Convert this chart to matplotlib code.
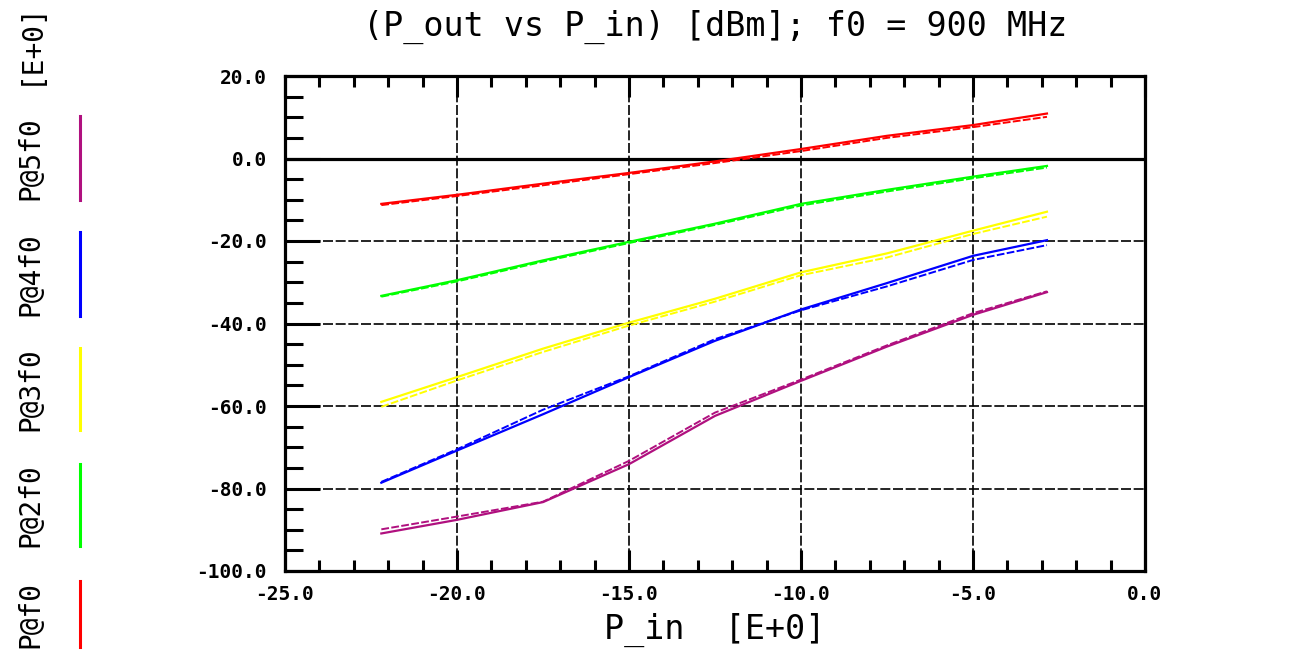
import matplotlib
matplotlib.use("Agg")
import matplotlib.pyplot as plt
from matplotlib.lines import Line2D
from matplotlib.ticker import MultipleLocator, FormatStrFormatter

# P_in sweep points [dBm]
p_in = [-22.2, -20.0, -17.5, -15.0, -12.5, -10.0, -7.5, -5.0, -2.85]

# simulated (solid) and measured (dashed) output power per harmonic [dBm]
sim_f0 = [-11.0, -8.8, -6.1, -3.5, -0.7, 2.3, 5.5, 8.1, 10.9]
meas_f0 = [-11.3, -9.1, -6.5, -3.8, -1.1, 1.8, 5.0, 7.6, 10.1]
sim_2f0 = [-33.3, -29.5, -24.7, -20.2, -15.8, -11.0, -7.6, -4.4, -1.8]
meas_2f0 = [-33.5, -29.8, -25.0, -20.5, -16.1, -11.4, -8.0, -4.8, -2.2]
sim_3f0 = [-59.0, -53.0, -46.1, -39.8, -34.0, -27.6, -23.0, -17.5, -12.9]
meas_3f0 = [-60.2, -53.8, -46.9, -40.5, -34.7, -28.3, -24.0, -18.3, -14.1]
sim_4f0 = [-78.6, -70.8, -62.0, -53.0, -44.2, -36.6, -30.2, -23.6, -19.8]
meas_4f0 = [-78.4, -70.5, -60.9, -52.8, -43.8, -36.8, -31.0, -24.6, -21.0]
sim_5f0 = [-90.9, -87.6, -83.3, -74.1, -62.4, -53.9, -45.6, -37.9, -32.4]
meas_5f0 = [-89.9, -86.8, -83.2, -73.3, -61.6, -53.6, -45.3, -37.5, -32.2]

labels = ["P@5f0", "P@4f0", "P@3f0", "P@2f0", "P@f0"]
colors = ["#B0107F", "#0000FF", "#FFFF00", "#00FF00", "#FF0000"]
sims = [sim_5f0, sim_4f0, sim_3f0, sim_2f0, sim_f0]
meas = [meas_5f0, meas_4f0, meas_3f0, meas_2f0, meas_f0]

W, H = 1292, 653
fig = plt.figure(figsize=(W / 100, H / 100), dpi=100)
fig.patch.set_facecolor("white")
ax = fig.add_axes([285 / W, 1 - 571 / H, (1145 - 285) / W, (571 - 76) / H])

MONO = "DejaVu Sans Mono"

for s, m, c in zip(sims, meas, colors):
    ax.plot(p_in, m, color=c, lw=1.4, linestyle=(0, (4, 1.2)), zorder=3)
    ax.plot(p_in, s, color=c, lw=1.6, zorder=4)

ax.set_xlim(-25, 0)
ax.set_ylim(-100, 20)
ax.axhline(0, color="black", lw=2.3, zorder=2)

ax.xaxis.set_major_locator(MultipleLocator(5))
ax.xaxis.set_minor_locator(MultipleLocator(1))
ax.yaxis.set_major_locator(MultipleLocator(20))
ax.yaxis.set_minor_locator(MultipleLocator(5))
ax.xaxis.set_major_formatter(FormatStrFormatter("%.1f"))
ax.yaxis.set_major_formatter(FormatStrFormatter("%.1f"))

ax.grid(True, which="major", color="black", lw=1.2, linestyle=(0, (6, 1.6)), zorder=1)

for sp in ax.spines.values():
    sp.set_linewidth(2.3)
    sp.set_color("black")

ax.tick_params(axis="x", which="both", direction="in", top=True, bottom=True, width=2.2, pad=10)
ax.tick_params(axis="x", which="major", length=15)
ax.tick_params(axis="x", which="minor", length=8)
ax.tick_params(axis="y", which="both", direction="in", left=True, right=False, width=2.2, pad=13)
ax.tick_params(axis="y", which="major", length=25)
ax.tick_params(axis="y", which="minor", length=13)
for lab in ax.get_xticklabels() + ax.get_yticklabels():
    lab.set_fontfamily(MONO)
    lab.set_fontweight("bold")
    lab.set_fontsize(14)

# title and axis label
fig.text(715 / W, 1 - 27 / H, "(P_out vs P_in) [dBm]; f0 = 900 MHz", ha="center", va="center",
         fontsize=24, family=MONO, color="black")
fig.text(715 / W, 1 - 630 / H, "P_in  [E+0]", ha="center", va="center",
         fontsize=24, family=MONO, color="black")

# left-hand legend: rotated names with colour bars
fig.text(30 / W, 1 - 43 / H, "[E+0]", rotation=90, ha="center", va="center",
         fontsize=20, family=MONO, color="black")
centers = [158, 274, 389, 505, 614]
halves = [42, 42, 41, 41, 33]
for lab, c, cy, hh in zip(labels, colors, centers, halves):
    fig.text(30 / W, 1 - cy / H, lab, rotation=90, ha="center", va="center",
             fontsize=20, family=MONO, color="black")
    fig.add_artist(Line2D([80 / W, 80 / W], [1 - (cy - hh) / H, 1 - (cy + hh) / H],
                          color=c, lw=2.2, transform=fig.transFigure))

fig.savefig("out.png", dpi=100, facecolor="white")
